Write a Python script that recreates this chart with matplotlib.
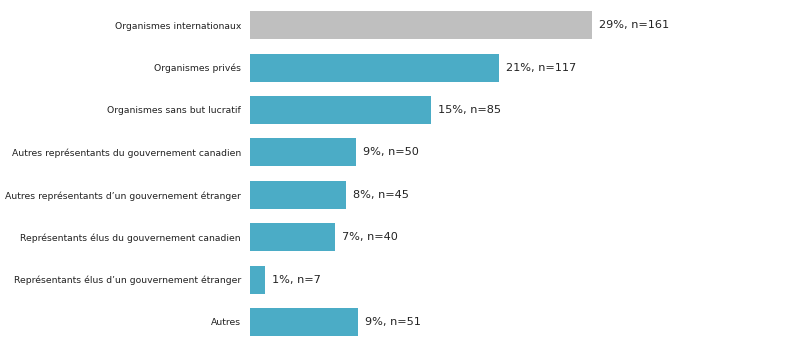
import numpy as np
import matplotlib.pyplot as plt

# categories, shares and counts (top to bottom)
categories = [
    "Organismes internationaux",
    "Organismes privés",
    "Organismes sans but lucratif",
    "Autres représentants du gouvernement canadien",
    "Autres représentants d\u2019un gouvernement étranger",
    "Représentants élus du gouvernement canadien",
    "Représentants élus d\u2019un gouvernement étranger",
    "Autres",
]
percents = [29, 21, 15, 9, 8, 7, 1, 9]
counts = [161, 117, 85, 50, 45, 40, 7, 51]

teal = "#4BACC6"
grey = "#BFBFBF"
colors = [grey] + [teal] * (len(categories) - 1)

fig = plt.figure(figsize=(7.98, 3.56), dpi=100)
ax = fig.add_axes([250 / 798, 0.036, 548 / 798, 0.953])

y = np.arange(len(categories))
ax.barh(y, counts, height=0.66, color=colors)

for yi, c, p in zip(y, counts, percents):
    ax.text(c + 3.3, yi, f"{p}%, n={c}", va="center", ha="left",
            fontsize=8.1, color="#222222")

ax.set_yticks(y)
ax.set_yticklabels(categories, fontsize=6.65, color="#222222")
ax.tick_params(axis="y", length=0, pad=6.5)
ax.set_xticks([])
ax.set_xlim(0, 548 / 2.124)
ax.set_ylim(len(categories) - 0.5, -0.5)
for s in ax.spines.values():
    s.set_visible(False)

fig.savefig("out.png", dpi=100)
